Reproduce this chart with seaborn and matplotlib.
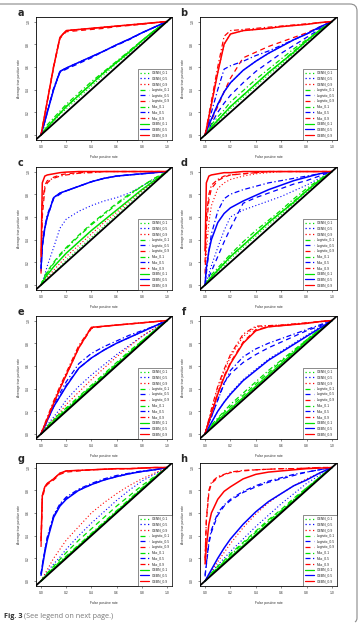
import matplotlib
matplotlib.use("Agg")
import matplotlib.pyplot as plt
import seaborn as sns
import pandas as pd
from matplotlib.lines import Line2D
from matplotlib.path import Path
from matplotlib.patches import PathPatch

# ---------------- data ----------------
FPR = [0, .01, .03, .05, .1, .15, .2, .3, .4, .5, .6, .7, .8, .9, 1]
METHODS = ["GENN", "Logistic", "Max", "GEBN"]
LEVELS = ["0.1", "0.5", "0.9"]
TICKS = [0.0, 0.2, 0.4, 0.6, 0.8, 1.0]
TICK_LABELS = ["0.0", "0.2", "0.4", "0.6", "0.8", "1.0"]
PANEL_LETTERS = ["a", "b", "c", "d", "e", "f", "g", "h"]

A_GENN_01 = [0, .01, .04, .06, .12, .18, .23, .33, .43, .53, .63, .72, .82, .91, 1]
A_GENN_05 = [0, .04, .12, .2, .4, .56, .59, .64, .69, .74, .795, .845, .9, .95, 1]
A_GENN_09 = [0, .06, .18, .3, .6, .86, .92, .93, .94, .95, .96, .97, .98, .99, 1]
A_LOG_01 = [0, .02, .05, .07, .13, .19, .25, .35, .45, .55, .64, .74, .83, .92, 1]
A_LOG_05 = [0, .04, .12, .2, .41, .55, .58, .63, .68, .74, .79, .84, .9, .95, 1]
A_LOG_09 = [0, .06, .18, .3, .6, .85, .91, .92, .93, .94, .955, .965, .975, .99, 1]
A_MAX_01 = [0, .02, .06, .09, .15, .21, .27, .37, .47, .56, .65, .74, .83, .92, 1]
A_MAX_05 = [0, .04, .12, .21, .41, .56, .59, .64, .69, .74, .795, .845, .9, .95, 1]
A_MAX_09 = [0, .06, .18, .3, .61, .86, .92, .93, .94, .95, .96, .97, .98, .99, 1]
A_GEBN_01 = [0, .015, .045, .07, .13, .19, .25, .35, .45, .55, .64, .73, .83, .92, 1]
A_GEBN_05 = [0, .04, .12, .2, .4, .56, .59, .64, .69, .74, .795, .845, .9, .95, 1]
A_GEBN_09 = [0, .06, .18, .3, .6, .86, .92, .93, .94, .95, .96, .97, .98, .99, 1]

B_GENN_01 = [0, .01, .04, .06, .12, .17, .23, .33, .43, .53, .62, .72, .82, .91, 1]
B_GENN_05 = [0, .03, .09, .14, .27, .38, .46, .57, .65, .72, .78, .84, .89, .95, 1]
B_GENN_09 = [0, .05, .16, .27, .55, .8, .89, .92, .93, .94, .955, .965, .975, .99, 1]
B_LOG_01 = [0, .02, .05, .07, .13, .19, .25, .35, .45, .55, .64, .74, .83, .92, 1]
B_LOG_05 = [0, .02, .05, .1, .2, .28, .35, .46, .56, .64, .72, .79, .86, .93, 1]
B_LOG_09 = [0, .03, .08, .13, .25, .38, .5, .68, .73, .78, .82, .86, .9, .95, 1]
B_MAX_01 = [0, .02, .06, .09, .16, .22, .29, .39, .49, .58, .67, .76, .84, .92, 1]
B_MAX_05 = [0, .04, .12, .2, .4, .58, .61, .65, .7, .74, .79, .84, .89, .94, 1]
B_MAX_09 = [0, .06, .18, .3, .6, .87, .92, .93, .94, .95, .96, .97, .98, .99, 1]
B_GEBN_01 = [0, .015, .045, .07, .13, .19, .25, .35, .45, .55, .64, .73, .83, .92, 1]
B_GEBN_05 = [0, .03, .09, .14, .27, .38, .46, .57, .65, .72, .78, .84, .89, .95, 1]
B_GEBN_09 = [0, .05, .16, .27, .55, .8, .89, .92, .93, .94, .955, .965, .975, .99, 1]

C_GENN_01 = [0, .01, .04, .06, .11, .16, .22, .32, .42, .52, .62, .72, .82, .91, 1]
C_GENN_05 = [0, .03, .09, .17, .33, .5, .58, .65, .7, .74, .77, .81, .87, .93, 1]
C_GENN_09 = [0, .02, .05, .07, .13, .19, .25, .35, .45, .55, .64, .74, .83, .92, 1]
C_LOG_01 = [0, .03, .08, .12, .2, .27, .33, .44, .54, .63, .72, .8, .87, .94, 1]
C_LOG_05 = [.12, .33, .5, .6, .76, .8, .83, .87, .91, .94, .96, .97, .98, .99, 1]
C_LOG_09 = [.2, .6, .85, .9, .95, .97, .98, .99, .995, 1, 1, 1, 1, 1, 1]
C_MAX_01 = [0, .03, .07, .11, .19, .26, .32, .43, .53, .62, .71, .79, .87, .94, 1]
C_MAX_05 = [.14, .35, .52, .62, .77, .81, .83, .87, .91, .94, .96, .97, .98, .99, 1]
C_MAX_09 = [.1, .7, .88, .92, .94, .96, .97, .985, .99, 1, 1, 1, 1, 1, 1]
C_GEBN_01 = [0, .02, .06, .09, .16, .22, .28, .38, .48, .57, .66, .75, .84, .92, 1]
C_GEBN_05 = [.15, .35, .5, .6, .77, .81, .83, .87, .91, .94, .96, .97, .98, .99, 1]
C_GEBN_09 = [.25, .9, .96, .97, .98, .99, .995, 1, 1, 1, 1, 1, 1, 1, 1]

D_GENN_01 = [0, .01, .04, .06, .12, .17, .23, .33, .43, .53, .62, .72, .82, .91, 1]
D_GENN_05 = [0, .03, .1, .17, .33, .48, .6, .66, .7, .74, .78, .83, .88, .94, 1]
D_GENN_09 = [0, .3, .55, .7, .85, .9, .93, .96, .98, .99, 1, 1, 1, 1, 1]
D_LOG_01 = [0, .02, .05, .07, .13, .19, .25, .35, .45, .55, .64, .74, .83, .92, 1]
D_LOG_05 = [0, .02, .07, .12, .25, .38, .5, .72, .77, .81, .85, .89, .92, .96, 1]
D_LOG_09 = [.1, .5, .75, .85, .92, .95, .97, .98, .99, 1, 1, 1, 1, 1, 1]
D_MAX_01 = [0, .02, .06, .09, .15, .21, .27, .38, .48, .57, .66, .76, .85, .93, 1]
D_MAX_05 = [0, .1, .3, .45, .65, .76, .8, .84, .87, .9, .92, .94, .96, .98, 1]
D_MAX_09 = [.2, .6, .8, .88, .93, .96, .97, .98, .99, 1, 1, 1, 1, 1, 1]
D_GEBN_01 = [0, .015, .045, .07, .13, .19, .25, .35, .45, .55, .64, .73, .83, .92, 1]
D_GEBN_05 = [0, .15, .3, .4, .55, .63, .68, .74, .79, .84, .88, .92, .95, .98, 1]
D_GEBN_09 = [.3, .9, .96, .97, .98, .99, .99, 1, 1, 1, 1, 1, 1, 1, 1]

E_GENN_01 = [0, .01, .04, .06, .11, .16, .21, .31, .41, .51, .61, .71, .81, .91, 1]
E_GENN_05 = [0, .02, .05, .08, .15, .22, .3, .42, .52, .61, .7, .78, .86, .93, 1]
E_GENN_09 = [0, .01, .04, .07, .13, .19, .26, .37, .48, .58, .68, .77, .86, .93, 1]
E_LOG_01 = [0, .01, .04, .06, .12, .17, .22, .32, .42, .52, .62, .72, .82, .91, 1]
E_LOG_05 = [0, .02, .07, .12, .24, .33, .43, .58, .67, .74, .8, .85, .9, .95, 1]
E_LOG_09 = [0, .03, .08, .13, .27, .4, .52, .76, .93, .95, .96, .97, .98, .99, 1]
E_MAX_01 = [0, .015, .045, .07, .13, .18, .23, .33, .43, .53, .63, .73, .82, .91, 1]
E_MAX_05 = [0, .03, .08, .13, .26, .36, .46, .62, .71, .77, .82, .87, .91, .95, 1]
E_MAX_09 = [0, .03, .09, .15, .29, .42, .54, .78, .94, .95, .96, .97, .98, .99, 1]
E_GEBN_01 = [0, .01, .035, .055, .11, .16, .21, .31, .41, .51, .61, .71, .81, .91, 1]
E_GEBN_05 = [0, .02, .07, .12, .24, .33, .42, .58, .67, .74, .8, .85, .9, .95, 1]
E_GEBN_09 = [0, .03, .08, .13, .27, .4, .52, .76, .94, .95, .96, .97, .98, .99, 1]

F_GENN_01 = [0, .01, .035, .055, .11, .16, .21, .31, .41, .51, .61, .71, .81, .91, 1]
F_GENN_05 = [0, .02, .06, .1, .2, .28, .36, .48, .57, .66, .73, .8, .87, .94, 1]
F_GENN_09 = [0, .05, .12, .2, .4, .55, .68, .86, .94, .955, .96, .97, .98, .99, 1]
F_LOG_01 = [0, .015, .045, .07, .13, .19, .24, .34, .44, .54, .64, .73, .83, .92, 1]
F_LOG_05 = [0, .04, .1, .15, .3, .45, .53, .63, .7, .76, .81, .86, .91, .95, 1]
F_LOG_09 = [0, .04, .11, .18, .36, .51, .63, .81, .92, .945, .955, .965, .975, .99, 1]
F_MAX_01 = [0, .015, .05, .08, .14, .2, .26, .36, .46, .56, .65, .74, .83, .92, 1]
F_MAX_05 = [0, .04, .1, .15, .3, .44, .56, .68, .75, .8, .84, .88, .92, .96, 1]
F_MAX_09 = [0, .05, .13, .22, .42, .57, .7, .88, .95, .955, .96, .97, .98, .99, 1]
F_GEBN_01 = [0, .01, .04, .06, .12, .17, .22, .32, .42, .52, .62, .72, .82, .91, 1]
F_GEBN_05 = [0, .02, .06, .1, .2, .28, .35, .47, .56, .65, .72, .79, .86, .93, 1]
F_GEBN_09 = [0, .04, .11, .18, .35, .5, .62, .8, .91, .945, .955, .965, .975, .99, 1]

G_GENN_01 = [0, .01, .035, .055, .11, .16, .21, .31, .41, .51, .61, .71, .81, .91, 1]
G_GENN_05 = [0, .02, .05, .08, .15, .21, .28, .4, .51, .61, .71, .8, .88, .94, 1]
G_GENN_09 = [0, .02, .06, .1, .2, .28, .36, .48, .6, .69, .77, .84, .9, .95, 1]
G_LOG_01 = [0, .015, .045, .07, .13, .19, .25, .36, .46, .56, .66, .75, .84, .92, 1]
G_LOG_05 = [.06, .14, .27, .38, .57, .67, .73, .8, .85, .89, .92, .945, .965, .98, 1]
G_LOG_09 = [.3, .72, .82, .85, .89, .94, .96, .97, .98, .985, .99, .99, .995, 1, 1]
G_MAX_01 = [0, .015, .04, .06, .12, .17, .22, .32, .42, .52, .62, .72, .82, .91, 1]
G_MAX_05 = [.06, .14, .27, .39, .58, .68, .74, .81, .86, .9, .93, .95, .97, .98, 1]
G_MAX_09 = [.35, .75, .83, .86, .9, .95, .97, .975, .98, .985, .99, .99, .995, 1, 1]
G_GEBN_01 = [0, .01, .035, .055, .11, .16, .21, .31, .41, .51, .61, .71, .81, .91, 1]
G_GEBN_05 = [.05, .12, .25, .36, .56, .66, .72, .8, .85, .89, .92, .945, .965, .98, 1]
G_GEBN_09 = [.35, .75, .83, .86, .9, .95, .97, .975, .98, .985, .99, .99, .995, 1, 1]

H_GENN_01 = [0, .01, .035, .055, .11, .16, .21, .31, .41, .51, .61, .71, .81, .91, 1]
H_GENN_05 = [0, .02, .05, .08, .14, .2, .26, .37, .48, .58, .68, .77, .86, .93, 1]
H_GENN_09 = [0, .02, .06, .09, .17, .25, .33, .47, .59, .69, .77, .84, .9, .95, 1]
H_LOG_01 = [0, .015, .045, .07, .13, .18, .24, .34, .44, .54, .63, .73, .82, .91, 1]
H_LOG_05 = [.04, .14, .33, .43, .58, .66, .71, .78, .83, .87, .9, .93, .96, .98, 1]
H_LOG_09 = [.18, .52, .78, .86, .91, .935, .955, .97, .98, .985, .99, .99, .995, 1, 1]
H_MAX_01 = [0, .015, .04, .065, .12, .17, .23, .33, .43, .53, .62, .72, .82, .91, 1]
H_MAX_05 = [.05, .15, .35, .45, .6, .67, .72, .79, .84, .88, .91, .94, .96, .98, 1]
H_MAX_09 = [.2, .55, .8, .87, .92, .94, .96, .975, .98, .985, .99, .99, .995, 1, 1]
H_GEBN_01 = [0, .01, .035, .055, .11, .16, .21, .31, .41, .51, .61, .71, .81, .91, 1]
H_GEBN_05 = [0, .02, .06, .1, .2, .29, .37, .5, .61, .7, .77, .84, .89, .95, 1]
H_GEBN_09 = [.15, .3, .5, .6, .72, .79, .83, .9, .94, .96, .97, .98, .99, .995, 1]

PANEL_DATA = [
    [A_GENN_01, A_GENN_05, A_GENN_09, A_LOG_01, A_LOG_05, A_LOG_09, A_MAX_01, A_MAX_05, A_MAX_09, A_GEBN_01, A_GEBN_05, A_GEBN_09],
    [B_GENN_01, B_GENN_05, B_GENN_09, B_LOG_01, B_LOG_05, B_LOG_09, B_MAX_01, B_MAX_05, B_MAX_09, B_GEBN_01, B_GEBN_05, B_GEBN_09],
    [C_GENN_01, C_GENN_05, C_GENN_09, C_LOG_01, C_LOG_05, C_LOG_09, C_MAX_01, C_MAX_05, C_MAX_09, C_GEBN_01, C_GEBN_05, C_GEBN_09],
    [D_GENN_01, D_GENN_05, D_GENN_09, D_LOG_01, D_LOG_05, D_LOG_09, D_MAX_01, D_MAX_05, D_MAX_09, D_GEBN_01, D_GEBN_05, D_GEBN_09],
    [E_GENN_01, E_GENN_05, E_GENN_09, E_LOG_01, E_LOG_05, E_LOG_09, E_MAX_01, E_MAX_05, E_MAX_09, E_GEBN_01, E_GEBN_05, E_GEBN_09],
    [F_GENN_01, F_GENN_05, F_GENN_09, F_LOG_01, F_LOG_05, F_LOG_09, F_MAX_01, F_MAX_05, F_MAX_09, F_GEBN_01, F_GEBN_05, F_GEBN_09],
    [G_GENN_01, G_GENN_05, G_GENN_09, G_LOG_01, G_LOG_05, G_LOG_09, G_MAX_01, G_MAX_05, G_MAX_09, G_GEBN_01, G_GEBN_05, G_GEBN_09],
    [H_GENN_01, H_GENN_05, H_GENN_09, H_LOG_01, H_LOG_05, H_LOG_09, H_MAX_01, H_MAX_05, H_MAX_09, H_GEBN_01, H_GEBN_05, H_GEBN_09],
]

# ---------------- styles ----------------
COLORS = {"0.1": "#00e000", "0.5": "#0000ff", "0.9": "#ff0000"}
STYLES = {"GENN": (0, (1, 2)), "Logistic": (0, (4, 3)), "Max": (0, (4, 2, 1, 2)), "GEBN": "-"}
WIDTHS = {"GENN": 0.8, "Logistic": 0.9, "Max": 0.9, "GEBN": 1.1}

sns.set_style("white")
plt.rcParams["font.family"] = ["Liberation Sans", "DejaVu Sans"]

W, H = 359, 623
fig = plt.figure(figsize=(W / 100, H / 100), dpi=100)
fig.patch.set_facecolor("white")

col_x = [36, 200]
col_w = [136, 137]
row_top = [17, 167, 316, 463]
ax_h = 122.5
letter_x = [21, 184]
letter_y = [13, 163, 312, 459]

SMALL = 2.4

for i, letter in enumerate(PANEL_LETTERS):
    r, c = divmod(i, 2)
    x0, w, top = col_x[c], col_w[c], row_top[r]
    ax = fig.add_axes([x0 / W, 1 - (top + ax_h) / H, w / W, ax_h / H])
    rows = []
    for k, tpr in enumerate(PANEL_DATA[i]):
        m = METHODS[k // 3]
        lv = LEVELS[k % 3]
        for xv, yv in zip(FPR, tpr):
            rows.append({"fpr": xv, "tpr": yv, "method": m, "level": lv})
    df = pd.DataFrame(rows)
    handles = []
    for m in METHODS:
        for lv in LEVELS:
            sub = df[(df.method == m) & (df.level == lv)]
            sns.lineplot(data=sub, x="fpr", y="tpr", ax=ax, estimator=None, sort=False,
                         color=COLORS[lv], linestyle=STYLES[m], linewidth=WIDTHS[m],
                         legend=False)
            handles.append(Line2D([0], [0], color=COLORS[lv], linestyle=STYLES[m],
                                  linewidth=0.9, label=f"{m}_{lv}"))
    ax.axline((0, 0), (1, 1), color="black", linewidth=1.3, zorder=5)
    ax.set_xlim(-0.04, 1.04)
    ax.set_ylim(-0.04, 1.04)
    ax.set_xticks(TICKS)
    ax.set_yticks(TICKS)
    ax.set_xticklabels(TICK_LABELS, fontsize=SMALL, color="#333333")
    ax.set_yticklabels(TICK_LABELS, fontsize=SMALL, color="#333333", rotation=90, va="center")
    ax.tick_params(axis="both", length=1.6, width=0.4, pad=2.5, direction="out",
                   bottom=True, left=True, color="#333333")
    for sp in ax.spines.values():
        sp.set_linewidth(0.6)
        sp.set_color("black")
    ax.set_xlabel("False positive rate", fontsize=SMALL, color="#333333", labelpad=4)
    ax.set_ylabel("Average true positive rate", fontsize=SMALL, color="#333333", labelpad=4)
    leg = ax.legend(handles=handles, loc="lower right", fontsize=2.4, frameon=True,
                    fancybox=False, borderaxespad=0, handlelength=2.6, handletextpad=0.8,
                    labelspacing=0.5, borderpad=0.7)
    leg.get_frame().set_edgecolor("black")
    leg.get_frame().set_linewidth(0.4)
    leg.set_zorder(10)
    fig.text(letter_x[c] / W, 1 - letter_y[r] / H, letter, fontsize=7, fontweight="bold",
             ha="center", va="center", family=["DejaVu Sans"])

# caption
t1 = fig.text(4 / W, 1 - 617 / H, "Fig. 3", fontsize=5.2, fontweight="bold", color="#2f2f2f",
              ha="left", va="center", family=["Open Sans", "DejaVu Sans"])
fig.canvas.draw()
bb = t1.get_window_extent()
fig.text((bb.x1 + 2) / W, 1 - 617 / H, "(See legend on next page.)", fontsize=5.2,
         color="#777777", ha="left", va="center", family=["Open Sans", "DejaVu Sans"])

# border frame (top and right with rounded corner)
pts = [(0, 4), (350, 4), (357, 4), (357, 11), (357, 618), (357, 621), (355, 622)]
codes = [Path.MOVETO, Path.LINETO, Path.CURVE3, Path.CURVE3, Path.LINETO, Path.CURVE3, Path.CURVE3]
path = Path([(x / W, 1 - y / H) for x, y in pts], codes)
fig.patches.append(PathPatch(path, transform=fig.transFigure, facecolor="none",
                             edgecolor="#8a8a8a", linewidth=0.8))

fig.savefig("out.png", dpi=100, facecolor="white")
